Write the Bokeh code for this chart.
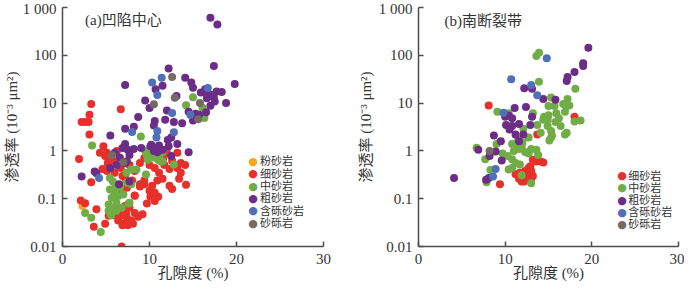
from bokeh.plotting import figure
from bokeh.layouts import row
from bokeh.models import Range1d, FixedTicker, Label
from bokeh.embed import file_html
from bokeh.resources import INLINE

# ---------------- data: (a) 凹陷中心 ----------------
a_fen_x = [2.3]
a_fen_y = [0.07]

a_xi_x = [3.3, 3.1, 2.2, 2.6, 3.0, 3.1, 6.7, 4.7, 1.9, 5.3, 4.6, 5.1,
          3.3, 2.1, 2.6, 3.9, 3.6, 4.9, 6.8,
          5.8, 6.7, 7.7, 8.3, 8.9, 9.4, 10.0, 10.6, 11.1, 11.7, 12.3, 12.6, 13.2, 13.6, 14.1,
          13.4, 14.2, 7.2, 8.0, 8.9, 9.4, 10.0, 10.3, 10.9, 11.5, 12.3, 10.6, 10.1, 11.0, 10.6,
          9.7, 8.3, 6.8, 7.4, 5.2, 6.25, 5.1, 4.3, 11.6, 12.0, 13.2, 13.6, 6.0, 6.9, 4.9, 12.6,
          6.6, 7.2, 7.7, 8.3, 8.7, 6.8, 7.4, 7.9, 6.4, 7.0, 7.5, 8.1, 6.9, 5.8, 6.2, 7.3, 5.3, 9.2,
          8.3, 8.9, 9.4]
a_xi_y = [9.6, 5.7, 4.0, 4.0, 4.0, 2.2, 7.4, 1.25, 0.68, 0.59, 0.42, 0.38,
          0.22, 0.092, 0.08, 0.06, 0.026, 0.03, 0.01,
          0.62, 0.44, 0.51, 0.38, 0.56, 0.71, 0.51, 0.44, 0.35, 0.51, 0.42, 0.62, 0.44, 0.35, 0.51,
          0.26, 0.195, 0.27, 0.24, 0.2, 0.24, 0.147, 0.187, 0.24, 0.26, 0.187, 0.133, 0.11, 0.11, 0.09,
          0.079, 0.115, 0.133, 0.17, 0.56, 1.0, 0.91, 0.91, 0.72, 0.91, 0.91, 0.56, 0.35, 0.3, 0.78, 0.16,
          0.06, 0.07, 0.065, 0.05, 0.042, 0.045, 0.04, 0.035, 0.035, 0.03, 0.028, 0.03, 0.028, 0.045, 0.05, 0.05, 0.044, 0.047,
          0.117, 0.18, 0.2]

a_zhong_x = [14.2, 15.0, 16.1, 16.3, 9.0, 3.4, 9.7, 11.5, 12.8,
             9.5, 10.1, 10.6, 11.1, 11.5, 10.9, 9.8, 10.4, 11.3, 10.0, 10.8, 11.0,
             7.9, 7.35, 9.6, 8.5,
             5.45, 5.8, 6.1, 6.6, 5.45, 6.0, 6.4, 7.0, 5.65, 6.2, 5.3, 5.8, 5.3, 6.2, 6.8, 7.7, 7.35, 7.9, 7.6,
             2.6, 3.3, 4.4, 5.6]
a_zhong_y = [9.0, 13.3, 8.0, 4.9, 2.0, 1.3, 0.81, 0.61, 0.52,
             1.0, 0.85, 0.72, 0.75, 0.95, 1.05, 0.65, 1.1, 0.6, 0.9, 0.9, 0.65,
             0.41, 0.35, 0.32, 0.41,
             0.27, 0.23, 0.18, 0.17, 0.156, 0.133, 0.114, 0.123, 0.105, 0.082, 0.076, 0.065, 0.056, 0.056, 0.065, 0.082, 0.215, 0.2, 0.079,
             0.05, 0.04, 0.02, 0.045]

a_cu_x = [17.0, 17.8, 17.4, 19.8, 12.2, 14.1, 14.8, 15.0, 7.2, 11.5, 10.7, 13.1, 16.4, 17.7, 18.3,
          15.9, 16.6, 17.1, 17.4, 16.6, 17.5, 17.0, 18.8, 9.5, 10.0, 12.0, 14.5, 15.3, 15.5, 15.7,
          15.0, 16.5, 10.6, 10.5, 11.8, 12.8, 13.75, 8.7, 7.2, 8.2, 5.5, 12.1, 12.5, 14.5, 10.6,
          10.1, 10.9, 10.5, 13.2, 12.2, 9.05, 10.2, 11.1, 11.5, 12.5, 7.5, 6.9,
          2.2, 3.7, 3.9, 5.5, 6.5, 7.7, 6.6, 7.4, 7.2, 7.7, 8.2, 6.0, 7.2, 7.7, 6.25]
a_cu_y = [610, 440, 60, 25, 53, 34, 27, 21, 24, 23, 19.5, 14, 19.5, 17.5, 17,
          16.7, 15.4, 14.9, 13.3, 12.7, 10.8, 8.8, 10.1, 11.4, 7.9, 7.0, 6.6, 6.0, 5.4, 5.7,
          4.3, 6.4, 4.2, 3.4, 4.5, 4.0, 3.8, 5.1, 2.9, 3.2, 2.1, 1.7, 1.9, 0.94, 1.15,
          1.25, 0.94, 1.0, 1.4, 1.25, 1.15, 1.35, 1.29, 1.06, 0.78, 1.06, 1.15,
          0.29, 0.37, 0.34, 0.44, 0.2, 0.23, 0.72, 0.61, 1.4, 1.0, 1.1, 0.91, 0.56, 0.82, 0.51]

a_hanli_x = [11.4, 10.3, 10.9, 16.7, 12.6, 14.7, 8.0, 10.9, 12.8, 10.8, 4.2]
a_hanli_y = [34, 27, 14.7, 20.8, 6.2, 5.7, 2.5, 2.6, 2.45, 1.9, 0.27]

a_shali_x = [12.6, 12.9, 10.5, 15.8, 15.6, 5.7, 7.0]
a_shali_y = [35, 13, 9.5, 10, 4.6, 0.81, 0.58]

# ---------------- data: (b) 南断裂带 ----------------
b_xi_x = [8.1, 13.7, 18.0, 9.4, 11.2, 11.7, 12.3, 12.9, 13.2, 12.7, 12.2, 13.0, 11.6, 11.9,
          13.2, 12.2, 13.6, 14.1, 14.4, 12.9, 13.0, 13.1]
b_xi_y = [8.9, 2.2, 5.2, 0.2, 0.325, 0.35, 0.38, 0.35, 0.65, 0.44, 0.29, 0.26, 0.26, 0.23,
          0.3, 0.23, 0.6, 0.6, 0.57, 0.48, 0.38, 0.31]

b_zhong_x = [13.6, 13.9, 9.1, 12.1, 13.7, 9.0, 6.7, 10.8, 11.2, 7.85, 8.3, 7.7, 9.7, 10.3, 10.8,
             11.2, 10.8, 10.4, 11.7, 11.9, 13.0, 12.3, 13.6, 12.7, 13.9, 18.1, 15.3, 17.2, 15.0,
             15.7, 16.7, 17.1, 17.4, 16.9, 13.2, 18.0, 18.7, 14.5, 15.0, 14.9, 14.4, 15.9, 16.2,
             15.8, 16.4, 14.1, 14.9, 15.3, 15.4, 15.1, 15.3, 17.1, 16.9, 12.7, 10.4,
             11.9, 11.6, 13.0, 13.8, 11.5, 12.0, 11.0]
b_zhong_y = [97, 113, 6.6, 2.9, 3.5, 1.4, 1.16, 1.4, 1.3, 0.22, 0.4, 0.67, 0.88, 0.78, 0.67,
             0.56, 0.44, 0.41, 0.52, 0.31, 0.21, 0.95, 1.06, 0.88, 28, 20, 13.1, 12.2, 8.7,
             8.7, 9.6, 8.7, 8.9, 6.6, 6.1, 4.1, 4.3, 5.2, 5.6, 4.5, 4.5, 6.1, 4.8,
             4.0, 3.3, 2.4, 3.3, 2.6, 2.1, 1.65, 1.9, 2.4, 2.2, 1.9, 6.1,
             1.2, 1.1, 1.1, 0.82, 1.7, 1.5, 1.0]

b_cu_x = [4.1, 6.9, 7.8, 8.1, 8.9, 8.2, 9.6, 12.2, 13.1, 11.1, 10.0, 10.4, 10.8, 12.4, 10.1,
          10.8, 11.6, 12.9, 10.5, 11.2, 12.1, 8.7, 9.5, 11.6, 19.6, 19.0, 19.0, 18.0, 17.2, 17.1,
          14.4, 15.8, 13.1]
b_cu_y = [0.27, 1.06, 0.25, 0.27, 0.97, 0.78, 0.63, 20.5, 20, 7.9, 5.2, 5.5, 4.8, 8.3, 3.5,
          3.3, 3.65, 3.5, 2.8, 2.2, 2.2, 2.1, 1.6, 1.6, 143, 68, 60, 45, 35, 29,
          12.2, 11.8, 5.2]

b_hanli_x = [10.7, 13.0, 13.7, 14.8, 9.8, 8.9, 8.6]
b_hanli_y = [31.6, 24, 14.6, 87, 6.3, 0.42, 0.29]

b_shali_x = [8.2]
b_shali_y = [1.0]

# ---------------- labels / ticks ----------------
names_a = ["粉砂岩", "细砂岩", "中砂岩", "粗砂岩", "含砾砂岩", "砂砾岩"]
names_b = ["细砂岩", "中砂岩", "粗砂岩", "含砾砂岩", "砂砾岩"]
colors_a = ["#F5A623", "#E8302A", "#70AD47", "#6B2D86", "#4F6FB8", "#776963"]
colors_b = colors_a[1:]
x_ticks = [0, 10, 20, 30]
y_ticks = [0.01, 0.1, 1, 10, 100, 1000]
y_tick_labels = ["0.01", "0.1", "1", "10", "100", "1 000"]
title_a = "(a)凹陷中心"
title_b = "(b)南断裂带"
x_label = "孔隙度 (%)"
y_label = "渗透率 (10⁻³ μm²)"

SERIF = "'Liberation Serif', 'Noto Sans CJK SC'"
AX = "#4d4d4d"
TXT = "#333333"
H = 284


def make_fig(width, mbl, mbr, mbt, mbb, ylab_standoff):
    p = figure(width=width, height=H, x_range=Range1d(0, 30), y_range=Range1d(0.01, 1000),
               y_axis_type="log", output_backend="svg", toolbar_location=None,
               min_border_left=mbl, min_border_right=mbr, min_border_top=mbt, min_border_bottom=mbb)
    p.grid.visible = False
    p.outline_line_color = None
    p.xaxis.ticker = FixedTicker(ticks=x_ticks)
    p.yaxis.ticker = FixedTicker(ticks=y_ticks)
    p.yaxis.major_label_overrides = {float(v): s for v, s in zip(y_ticks, y_tick_labels)}
    for ax in (p.xaxis[0], p.yaxis[0]):
        ax.axis_line_color = AX
        ax.axis_line_width = 1.5
        ax.major_tick_line_color = AX
        ax.major_tick_line_width = 1.5
        ax.major_tick_in = 5
        ax.major_tick_out = 0
        ax.minor_tick_line_color = None
        ax.major_label_text_font = SERIF
        ax.major_label_text_font_size = "15px"
        ax.major_label_text_color = TXT
        ax.axis_label_text_font = SERIF
        ax.axis_label_text_font_size = "15px"
        ax.axis_label_text_font_style = "normal"
        ax.axis_label_text_color = TXT
    p.xaxis.axis_label = x_label
    p.yaxis.axis_label = y_label
    p.xaxis.major_label_standoff = 7
    p.xaxis.axis_label_standoff = -2
    p.yaxis.major_label_standoff = 6
    p.yaxis.axis_label_standoff = ylab_standoff
    return p


def add_legend(p, names, colors, dot_x, txt_x, ys):
    for n, c, y in zip(names, colors, ys):
        p.add_layout(Label(x=dot_x, y=y, text="●", text_color=c, text_font="DejaVu Sans",
                           text_font_size="11px", text_align="center", text_baseline="middle"))
        p.add_layout(Label(x=txt_x, y=y, text=n, text_color=TXT, text_font=SERIF,
                           text_font_size="11px", text_align="left", text_baseline="middle"))


SIZE = 8

# panel a
pa = make_fig(343, 59, 20, 6, 38, 0)
for xs, ys, c in [(a_fen_x, a_fen_y, colors_a[0]), (a_xi_x, a_xi_y, colors_a[1]),
                  (a_zhong_x, a_zhong_y, colors_a[2]), (a_cu_x, a_cu_y, colors_a[3]),
                  (a_hanli_x, a_hanli_y, colors_a[4]), (a_shali_x, a_shali_y, colors_a[5])]:
    pa.scatter(xs, ys, size=SIZE, fill_color=c, line_color=None)
pa.add_layout(Label(x=2.6, y=550, text=title_a, text_font=SERIF, text_font_size="15px",
                    text_color=TXT, text_align="left", text_baseline="middle"))
add_legend(pa, names_a, colors_a, 21.9, 22.7, [0.604, 0.333, 0.184, 0.101, 0.056, 0.031])

# panel b
pb = make_fig(341, 75, 6, 7, 38, 2)
for xs, ys, c in [(b_xi_x, b_xi_y, colors_b[0]), (b_zhong_x, b_zhong_y, colors_b[1]),
                  (b_cu_x, b_cu_y, colors_b[2]), (b_hanli_x, b_hanli_y, colors_b[3]),
                  (b_shali_x, b_shali_y, colors_b[4])]:
    pb.scatter(xs, ys, size=SIZE, fill_color=c, line_color=None)
pb.add_layout(Label(x=3.0, y=530, text=title_b, text_font=SERIF, text_font_size="15px",
                    text_color=TXT, text_align="left", text_baseline="middle"))
add_legend(pb, names_b, colors_b, 23.5, 24.2, [0.30, 0.168, 0.0935, 0.052, 0.029])

layout = row(pa, pb)
open("out.html", "w").write(file_html(layout, INLINE))
